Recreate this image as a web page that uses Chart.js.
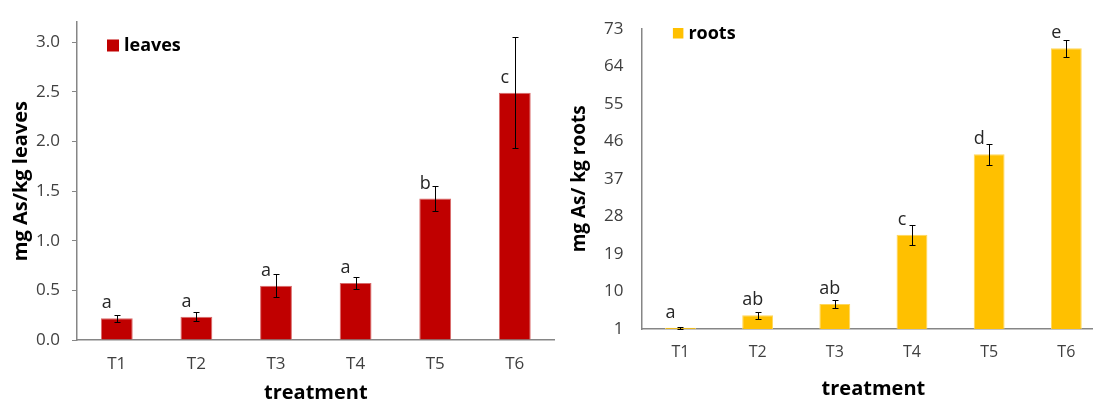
<!DOCTYPE html>
<html>
<head>
<meta charset="utf-8">
<script src="https://cdn.jsdelivr.net/npm/chart.js@4.4.0/dist/chart.umd.min.js"></script>
<style>
  html, body { margin: 0; padding: 0; background: #fff; overflow: hidden; width: 1093px; height: 401px; }
  #leaves { position: absolute; left: 0; top: 0; }
  #roots { position: absolute; left: 556px; top: 0; }
</style>
</head>
<body>
<canvas id="leaves" width="556" height="410"></canvas>
<canvas id="roots" width="556" height="401"></canvas>
<script>
var treatments = ['T1', 'T2', 'T3', 'T4', 'T5', 'T6'];

var leavesValues = [0.22, 0.235, 0.547, 0.574, 1.424, 2.49];
var leavesErrors = [0.034, 0.047, 0.118, 0.06, 0.129, 0.56];
var leavesLetters = ['a', 'a', 'a', 'a', 'b', 'c'];
var leavesTicks = [0, 0.5, 1.0, 1.5, 2.0, 2.5, 3.0];

var rootsValues = [1.3, 4.27, 7.0, 23.6, 42.9, 68.3];
var rootsErrors = [0.2, 0.77, 1.05, 2.4, 2.53, 2.1];
var rootsLetters = ['a', 'ab', 'ab', 'c', 'd', 'e'];
var rootsTicks = [1, 10, 19, 28, 37, 46, 55, 64, 73];

Chart.defaults.font.family = "'Open Sans', sans-serif";
Chart.defaults.color = '#404040';

var axisGrey = '#868686';

// error bars, significance letters and the little legend box
var marksPlugin = {
    id: 'marks',
    afterDatasetsDraw: function(chart, args, opts) {
        var ctx = chart.ctx;
        var meta = chart.getDatasetMeta(0);
        var ds = chart.data.datasets[0];
        var yScale = chart.scales.y;
        ctx.save();
        ctx.strokeStyle = '#000';
        ctx.lineWidth = 1;
        meta.data.forEach(function(bar, i) {
            var top = Math.round(yScale.getPixelForValue(ds.data[i] + opts.errors[i])) + 0.5;
            var bot = Math.round(yScale.getPixelForValue(ds.data[i] - opts.errors[i])) + 0.5;
            var x = Math.round(bar.x) + 0.5;
            ctx.beginPath();
            ctx.moveTo(x, top);
            ctx.lineTo(x, bot);
            ctx.moveTo(x - 3, top);
            ctx.lineTo(x + 3, top);
            ctx.moveTo(x - 3, bot);
            ctx.lineTo(x + 3, bot);
            ctx.stroke();
        });

        ctx.fillStyle = '#262626';
        ctx.font = opts.letterSize + "px 'Open Sans', sans-serif";
        ctx.textAlign = 'center';
        ctx.textBaseline = 'middle';
        meta.data.forEach(function(bar, i) {
            var t = opts.letters[i];
            ctx.fillText(t, bar.x - (t.length > 1 ? 5 : 10), bar.y - 15);
        });

        var a = chart.chartArea;
        var bx = a.left + opts.legendX;
        ctx.fillStyle = ds.backgroundColor;
        ctx.fillRect(bx, opts.legendY, opts.box, opts.box);
        ctx.fillStyle = '#000';
        ctx.font = "bold " + opts.legendSize + "px 'Open Sans', sans-serif";
        ctx.textAlign = 'left';
        ctx.fillText(ds.label, bx + opts.box + 5, opts.legendY + opts.box / 2 + 0.5);
        ctx.restore();
    }
};

var ctxLeaves = document.getElementById('leaves').getContext('2d');
var leavesChart = new Chart(ctxLeaves, {
    type: 'bar',
    data: {
        labels: treatments,
        datasets: [{
            label: 'leaves',
            data: leavesValues,
            backgroundColor: '#C00000',
            borderColor: '#D86A6A',
            borderWidth: 1,
            barPercentage: 0.4,
            categoryPercentage: 1.0
        }]
    },
    options: {
        responsive: false,
        animation: false,
        layout: { padding: { top: 22, right: 1.4, left: 0, bottom: 0 } },
        plugins: {
            legend: { display: false },
            tooltip: { enabled: false },
            marks: {
                errors: leavesErrors,
                letters: leavesLetters,
                letterSize: 18,
                legendX: 30,
                legendY: 39.5,
                box: 12,
                legendSize: 18
            }
        },
        scales: {
            x: {
                grid: { display: false, drawTicks: false },
                border: { color: axisGrey, width: 1.5 },
                ticks: { padding: 14.4, font: { size: 17 }, color: '#404040' },
                title: {
                    display: true,
                    text: 'treatment',
                    color: '#000',
                    font: { size: 20, weight: 'bold' },
                    padding: { top: 0, bottom: 4.7 }
                },
                afterFit: function(s) { s.height = 70; }
            },
            y: {
                min: 0,
                max: 3.2,
                grid: { display: true, drawOnChartArea: false, drawTicks: true, tickLength: 5, color: axisGrey },
                border: { color: axisGrey, width: 1.5 },
                afterBuildTicks: function(axis) {
                    axis.ticks = leavesTicks.map(function(v) { return { value: v }; });
                },
                ticks: {
                    padding: 12,
                    font: { size: 17 },
                    color: '#404040',
                    callback: function(v) { return Number(v).toFixed(1); }
                },
                title: {
                    display: true,
                    text: 'mg As/kg leaves',
                    color: '#000',
                    font: { size: 20, weight: 'bold' },
                    padding: { top: 9, bottom: 0 }
                },
                afterFit: function(s) { s.width = 77; }
            }
        }
    },
    plugins: [marksPlugin]
});

var ctxRoots = document.getElementById('roots').getContext('2d');
var rootsChart = new Chart(ctxRoots, {
    type: 'bar',
    data: {
        labels: treatments,
        datasets: [{
            label: 'roots',
            data: rootsValues,
            base: 1,
            backgroundColor: '#FFC000',
            borderColor: '#FFD75A',
            borderWidth: 1,
            barPercentage: 0.4,
            categoryPercentage: 1.0
        }]
    },
    options: {
        responsive: false,
        animation: false,
        layout: { padding: { top: 20.5, right: 7.1, left: 0, bottom: 0 } },
        plugins: {
            legend: { display: false },
            tooltip: { enabled: false },
            marks: {
                errors: rootsErrors,
                letters: rootsLetters,
                letterSize: 18,
                legendX: 31,
                legendY: 28,
                box: 10.5,
                legendSize: 18
            }
        },
        scales: {
            x: {
                grid: { display: false, drawTicks: false },
                border: { color: axisGrey, width: 1.5 },
                ticks: { padding: 13.4, font: { size: 16 }, color: '#404040' },
                title: {
                    display: true,
                    text: 'treatment',
                    color: '#000',
                    font: { size: 20, weight: 'bold' },
                    padding: { top: 0, bottom: -0.6 }
                },
                afterFit: function(s) { s.height = 72; }
            },
            y: {
                min: 1,
                max: 73,
                grid: { display: false, drawTicks: false },
                border: { color: axisGrey, width: 1.5 },
                afterBuildTicks: function(axis) {
                    axis.ticks = rootsTicks.map(function(v) { return { value: v }; });
                },
                ticks: { padding: 18.5, font: { size: 17 }, color: '#404040' },
                title: {
                    display: true,
                    text: 'mg As/ kg roots',
                    color: '#000',
                    font: { size: 19, weight: 'bold' },
                    padding: { top: 12, bottom: 0 }
                },
                afterFit: function(s) { s.width = 85.9; }
            }
        }
    },
    plugins: [marksPlugin]
});
</script>
</body>
</html>
